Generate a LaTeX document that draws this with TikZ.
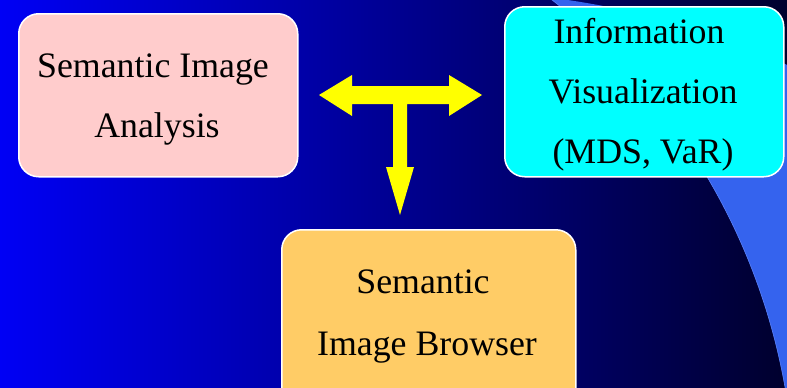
\documentclass[tikz,border=0pt]{standalone}
\usepackage{fontspec}
\setmainfont{Liberation Serif}
\definecolor{bgleft}{RGB}{0,0,245}
\definecolor{bgright}{RGB}{0,0,45}
\definecolor{crescent}{RGB}{53,99,238}
\definecolor{crescentedge}{RGB}{90,130,250}
\definecolor{pinkbox}{RGB}{255,204,204}
\definecolor{cyanbox}{RGB}{0,255,255}
\definecolor{orangebox}{RGB}{255,204,102}
\definecolor{arrowyellow}{RGB}{255,255,0}
\begin{document}
\begin{tikzpicture}[x=1pt,y=-1pt,
  box/.style={draw=white,line width=1.5pt,rounded corners=20pt,anchor=north west,inner sep=0pt},
  txt/.style={font=\fontsize{35.8}{42}\selectfont,text=black,anchor=base,inner sep=0pt},
  tarrow/.style={fill=arrowyellow,draw=none}]
\useasboundingbox (0,0) rectangle (787,388);
\begin{scope}
\clip (0,0) rectangle (787,388);
\shade[left color=bgleft,right color=bgright] (0,0) rectangle (787,388);
\begin{scope}
\clip (450,800) circle[radius=808.5pt];
\fill[crescent,even odd rule] (-10,-10) rectangle (800,400) (161.1,498.7) circle[radius=633.7pt];
\draw[crescentedge,line width=0.6pt] (161.1,498.7) circle[radius=633.7pt];
\end{scope}
% boxes
\node[box,fill=pinkbox,minimum width=279pt,minimum height=163pt] (sia) at (18,13) {};
\node[box,fill=cyanbox,minimum width=279pt,minimum height=170pt] (iv) at (504,6) {};
\node[box,fill=orangebox,minimum width=294pt,minimum height=191pt] (sib) at (281,229) {};
% texts
\node[txt] (sia1) at (153,77) {Semantic Image};
\node[txt] (sia2) at (157,137) {Analysis};
\node[txt] (iv1) at (639,43) {Information};
\node[txt] (iv2) at (643,103) {Visualization};
\node[txt] (iv3) at (643,163) {(MDS, VaR)};
\node[txt] (sib1) at (423,293) {Semantic};
\node[txt] (sib2) at (427,355) {Image Browser};
% T arrow
\fill[tarrow] (319,95) -- (352,75) -- (352,86) -- (449,86) -- (449,75) -- (482,95)
  -- (449,116) -- (449,104) -- (407,104) -- (407,167) -- (414,167) -- (400,215)
  -- (386,167) -- (393,167) -- (393,104) -- (352,104) -- (352,116) -- cycle;
\end{scope}
\end{tikzpicture}
\end{document}
